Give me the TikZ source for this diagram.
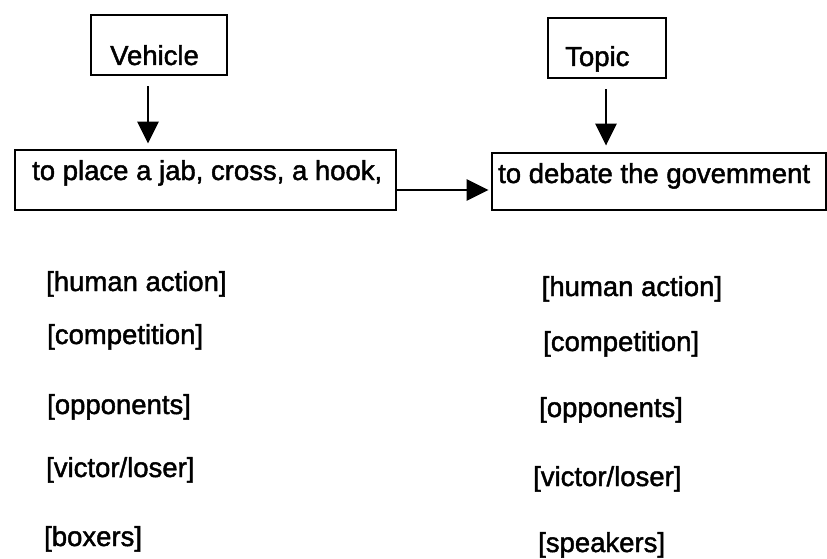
\documentclass[tikz,border=0pt]{standalone}
\usepackage{fontspec}
\setmainfont[FakeBold=1.6]{Liberation Sans}
\usetikzlibrary{arrows.meta,calc}
\tikzset{
  box/.style={draw, line width=2.8pt, inner sep=0pt},
  txt/.style={anchor=base west, inner sep=0pt, font=\fontsize{27.5}{33}\selectfont},
  arr/.style={line width=2.8pt, -{Triangle[length=22pt,width=21pt]}}
}
\begin{document}
\begin{tikzpicture}[x=1pt,y=-1pt]
\useasboundingbox (0,0) rectangle (827,559);
% boxes
\node[box, minimum width=136pt, minimum height=60pt] (veh) at (159,45) {};
\node[txt] (vehT) at (110,65) {Vehicle};
\node[box, minimum width=118pt, minimum height=60pt] (top) at (607,48) {};
\node[txt] (topT) at (565,66) {Topic};
\node[box, minimum width=381pt, minimum height=60pt] (b1) at (205.5,180) {};
\node[txt] (b1T) at (32,180) {to place a jab, cross, a hook,};
\node[box, minimum width=334pt, minimum height=57pt] (b2) at (659,181.5) {};
\node[txt] (b2T) at (498,183) {to debate the govemment};
% connectors
\draw[arr] ($(veh.south)+(-11,10)$) -- ($(b1.north)+(-57.5,-5)$);
\draw[arr] ($(top.south)+(-1,10)$) -- ($(b2.north)+(-53,-6)$);
\draw[arr] ($(b1.east)+(0,10)$) -- ($(b2.west)+(-2,8.5)$);
% left column
\node[txt] (l1) at (46,291) {[human action]};
\node[txt] (l2) at (47,344) {[competition]};
\node[txt] (l3) at (47,414) {[opponents]};
\node[txt] (l4) at (46,477) {[victor/loser]};
\node[txt] (l5) at (44,546) {[boxers]};
% right column
\node[txt] (r1) at (541.5,296) {[human action]};
\node[txt] (r2) at (543,351) {[competition]};
\node[txt] (r3) at (539,417) {[opponents]};
\node[txt] (r4) at (533,486) {[victor/loser]};
\node[txt] (r5) at (538,552) {[speakers]};
\end{tikzpicture}
\end{document}
